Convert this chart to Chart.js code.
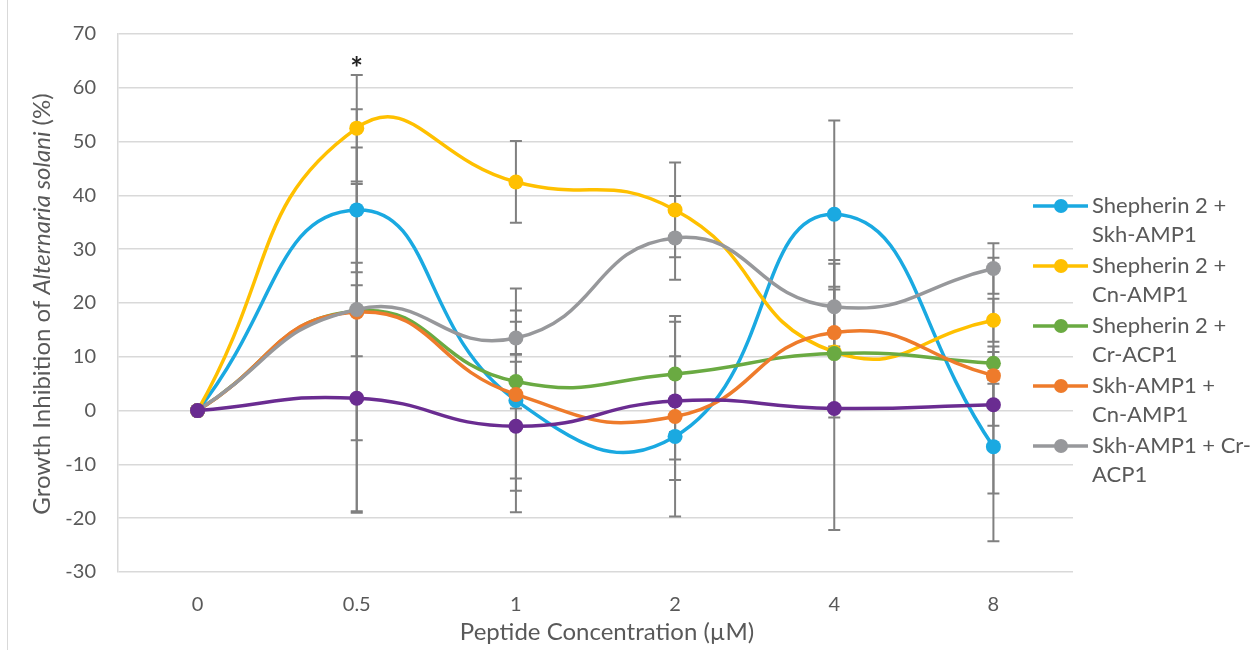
<!DOCTYPE html>
<html>
<head>
<meta charset="utf-8">
<script src="https://cdn.jsdelivr.net/npm/chart.js@4.4.1/dist/chart.umd.min.js"></script>
<style>
  html, body { margin: 0; padding: 0; background: #fff; }
  #wrap { width: 1253px; height: 650px; position: relative; }
</style>
</head>
<body>
<div id="wrap"><canvas id="chart" width="1253" height="650"></canvas></div>
<script>
// x categories (peptide concentration, µM)
const concentrations = ["0", "0.5", "1", "2", "4", "8"];

// mean growth inhibition (%)
const sheSkh = [0, 37.3, 1.9, -4.8, 36.5, -6.7];
const sheCn = [0, 52.5, 42.5, 37.3, 10.9, 16.8];
const sheCr = [0, 18.5, 5.4, 6.8, 10.6, 8.8];
const skhCn = [0, 18.3, 3.0, -1.1, 14.5, 6.5];
const skhCr = [0, 18.8, 13.5, 32.1, 19.3, 26.4];
const sixth = [0, 2.3, -2.9, 1.8, 0.4, 1.1];

// error bar half-lengths
const sheSkhErr = [0, 11.6, 20.8, 14.9, 17.4, 17.6];
const sheCnErr = [0, 9.9, 7.6, 8.8, 1.0, 4.0];
const sheCrErr = [0, 37.5, 5.0, 10.8, 11.9, 3.1];
const skhCnErr = [0, 23.8, 15.6, 8.0, 13.5, 21.9];
const skhCrErr = [0, 8.7, 3.0, 7.8, 8.0, 4.7];
const sixthErr = [0, 21.0, 12.0, 14.7, 22.6, 3.9];

const seriesNames = [
  ["Shepherin 2 +", "Skh-AMP1"],
  ["Shepherin 2 +", "Cn-AMP1"],
  ["Shepherin 2 +", "Cr-ACP1"],
  ["Skh-AMP1 +", "Cn-AMP1"],
  ["Skh-AMP1 + Cr-", "ACP1"],
  null // not shown in the legend
];

// significance marks, placed over the Shepherin 2 + Cn-AMP1 bars
const significance = ["", "*", "", "", "", ""];

const yTicks = { min: -30, max: 70, step: 10 };

const colors = ["#1aa9e1", "#ffc000", "#6aaa42", "#ee7b2b", "#97989b", "#6a2c91"];
const seriesValues = [sheSkh, sheCn, sheCr, skhCn, skhCr, sixth];
const seriesErrors = [sheSkhErr, sheCnErr, sheCrErr, skhCnErr, skhCrErr, sixthErr];

const fontFamily = "Lato, 'Open Sans', sans-serif";
const textGray = "#595959";

const errorBars = {
  id: "errorBars",
  beforeDatasetsDraw(chart) {
    const { ctx, scales: { x, y } } = chart;
    ctx.save();
    ctx.strokeStyle = "#808080";
    ctx.lineWidth = 2;
    seriesErrors.forEach((errs, i) => {
      errs.forEach((e, j) => {
        if (!e) return;
        const px = x.getPixelForValue(j);
        const top = y.getPixelForValue(seriesValues[i][j] + e);
        const bot = y.getPixelForValue(seriesValues[i][j] - e);
        ctx.beginPath();
        ctx.moveTo(px, top); ctx.lineTo(px, bot);
        ctx.moveTo(px - 6, top); ctx.lineTo(px + 6, top);
        ctx.moveTo(px - 6, bot); ctx.lineTo(px + 6, bot);
        ctx.stroke();
      });
    });
    ctx.restore();
  }
};

const decorations = {
  id: "decorations",
  afterDraw(chart) {
    const { ctx, chartArea, scales: { x, y } } = chart;
    ctx.save();

    // left frame edge
    ctx.strokeStyle = "#d9d9d9";
    ctx.lineWidth = 1;
    ctx.beginPath();
    ctx.moveTo(7.5, 0); ctx.lineTo(7.5, 650);
    ctx.stroke();

    // significance asterisk
    ctx.fillStyle = "#222";
    ctx.font = "bold 30px " + fontFamily;
    ctx.textAlign = "center";
    ctx.textBaseline = "middle";
    significance.forEach((s, j) => {
      if (!s) return;
      const top = y.getPixelForValue(sheCn[j] + sheCnErr[j]);
      ctx.fillText(s, x.getPixelForValue(j), top - 6);
    });

    // x axis title
    ctx.fillStyle = textGray;
    ctx.font = "24px " + fontFamily;
    ctx.fillText("Peptide Concentration (µM)", 607, 632);

    // y axis title with italic species name
    const parts = [
      ["Growth Inhibition of ", "normal"],
      ["Alternaria solani", "italic"],
      [" (%)", "normal"]
    ];
    ctx.translate(42, 304);
    ctx.rotate(-Math.PI / 2);
    let total = 0;
    parts.forEach(p => {
      ctx.font = p[1] + " 24px " + fontFamily;
      total += ctx.measureText(p[0]).width;
    });
    let cx = -total / 2;
    ctx.textAlign = "left";
    parts.forEach(p => {
      ctx.font = p[1] + " 24px " + fontFamily;
      ctx.fillText(p[0], cx, 0);
      cx += ctx.measureText(p[0]).width;
    });
    ctx.setTransform(1, 0, 0, 1, 0, 0);

    // legend
    const lx = chartArea.right - 40;
    let ly = chartArea.top + 172;
    ctx.font = "22px " + fontFamily;
    ctx.textAlign = "left";
    seriesNames.forEach((name, i) => {
      if (!name) return;
      ctx.strokeStyle = colors[i];
      ctx.lineWidth = 3.5;
      ctx.beginPath();
      ctx.moveTo(lx, ly); ctx.lineTo(lx + 55, ly);
      ctx.stroke();
      ctx.fillStyle = colors[i];
      ctx.beginPath();
      ctx.arc(lx + 28, ly, 7, 0, Math.PI * 2);
      ctx.fill();
      ctx.fillStyle = textGray;
      name.forEach((line, k) => ctx.fillText(line, lx + 59, ly + k * 28.5));
      ly += 60;
    });
    ctx.restore();
  }
};

new Chart(document.getElementById("chart"), {
  type: "line",
  data: {
    labels: concentrations,
    datasets: seriesValues.map((vals, i) => ({
      label: seriesNames[i] ? seriesNames[i].join(" ") : "",
      data: vals,
      borderColor: colors[i],
      backgroundColor: colors[i],
      pointBackgroundColor: colors[i],
      pointBorderWidth: 0,
      pointRadius: 7.5,
      borderWidth: 3.5,
      tension: 0.5,
      fill: false,
      order: seriesValues.length - i
    }))
  },
  options: {
    responsive: false,
    animation: false,
    layout: { padding: { top: 22, right: 180, left: 0, bottom: 0 } },
    plugins: {
      legend: { display: false },
      tooltip: { enabled: false }
    },
    scales: {
      x: {
        offset: true,
        grid: { display: false },
        border: { display: false },
        ticks: { color: textGray, font: { family: fontFamily, size: 20 }, padding: 13 },
        afterFit(scale) { scale.height = 78; }
      },
      y: {
        min: yTicks.min,
        max: yTicks.max,
        grid: { color: "#d9d9d9", lineWidth: 1.5, drawTicks: false },
        border: { display: true, color: "#d9d9d9", width: 1.5 },
        ticks: {
          stepSize: yTicks.step,
          color: textGray,
          font: { family: fontFamily, size: 20 },
          padding: 22
        },
        afterFit(scale) { scale.width = 118; }
      }
    }
  },
  plugins: [errorBars, decorations]
});
</script>
</body>
</html>
